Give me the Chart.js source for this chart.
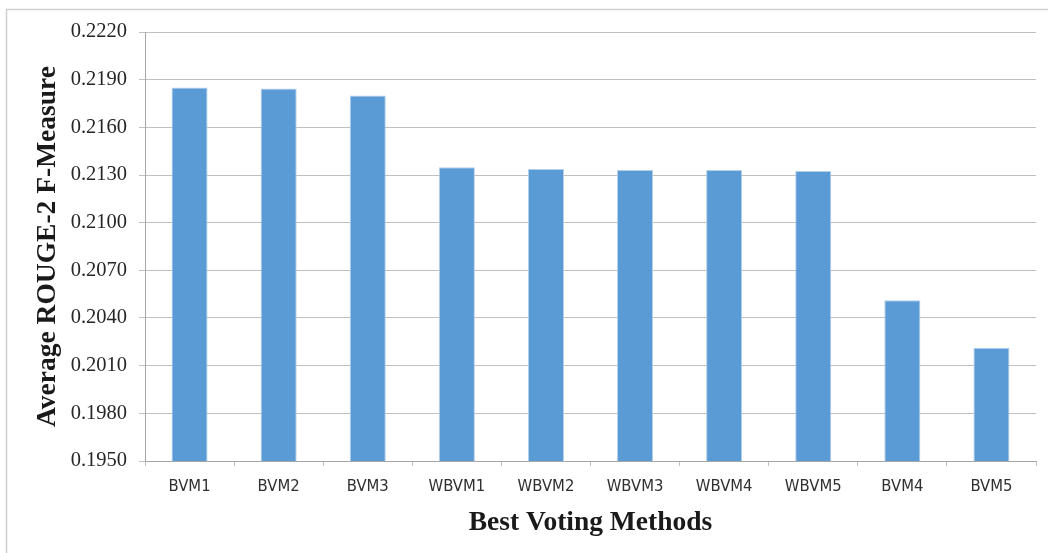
<!DOCTYPE html>
<html>
<head>
<meta charset="utf-8">
<script src="https://cdn.jsdelivr.net/npm/chart.js@4.4.1/dist/chart.umd.min.js"></script>
<style>
  html, body { margin: 0; padding: 0; background: #ffffff; }
  #wrap { width: 1048px; height: 553px; position: relative; }
</style>
</head>
<body>
<div id="wrap"><canvas id="chart" width="1048" height="553"></canvas></div>
<script>
// Voting methods and their average ROUGE-2 F-measure
const methods = ['BVM1', 'BVM2', 'BVM3', 'WBVM1', 'WBVM2', 'WBVM3', 'WBVM4', 'WBVM5', 'BVM4', 'BVM5'];
const rougeScores = [0.2185, 0.21845, 0.2180, 0.21348, 0.21338, 0.21332, 0.21332, 0.21325, 0.20512, 0.20213];

// Value axis range
const yMin = 0.1950;
const yMax = 0.2220;
const yStep = 0.0030;

// Light frame along the top and left edge of the chart box
const framePlugin = {
  id: 'frame',
  beforeDraw(chart) {
    const ctx = chart.ctx;
    ctx.save();
    ctx.fillStyle = '#ffffff';
    ctx.fillRect(0, 0, chart.width, chart.height);
    ctx.strokeStyle = '#cfcfcf';
    ctx.lineWidth = 1.5;
    ctx.beginPath();
    ctx.moveTo(6.5, chart.height);
    ctx.lineTo(6.5, 9.5);
    ctx.lineTo(chart.width, 9.5);
    ctx.stroke();
    ctx.restore();
  }
};

new Chart(document.getElementById('chart'), {
  type: 'bar',
  data: {
    labels: methods,
    datasets: [{
      data: rougeScores,
      backgroundColor: '#5b9bd5',
      borderColor: '#b4d0ec',
      borderWidth: 1,
      barPercentage: 0.405,
      categoryPercentage: 1.0
    }]
  },
  options: {
    responsive: false,
    animation: false,
    devicePixelRatio: 1,
    layout: { padding: { left: 0, right: 12, top: 32, bottom: 0 } },
    plugins: {
      legend: { display: false },
      tooltip: { enabled: false }
    },
    scales: {
      x: {
        afterFit(scale) { scale.height = 92; },
        grid: {
          offset: true,
          drawOnChartArea: false,
          drawTicks: true,
          tickLength: 5,
          color: '#bfbfbf'
        },
        border: { color: '#a6a6a6', width: 1 },
        ticks: {
          padding: 11,
          color: '#303030',
          font: { family: "'Liberation Sans Narrow', 'DejaVu Sans Condensed', Roboto, sans-serif", size: 16.5, weight: 300 }
        },
        title: {
          display: true,
          text: 'Best Voting Methods',
          color: '#1a1a1a',
          padding: { top: 0, bottom: 14 },
          font: { family: "'Liberation Serif', 'DejaVu Serif', serif", size: 27.5, weight: 'bold' }
        }
      },
      y: {
        min: yMin,
        max: yMax,
        afterFit(scale) { scale.width = 145; },
        grid: {
          color: '#bfbfbf',
          lineWidth: 1,
          drawTicks: true,
          tickLength: 6
        },
        border: { color: '#a6a6a6', width: 1 },
        ticks: {
          stepSize: yStep,
          padding: 12,
          color: '#262626',
          font: { family: "'Liberation Serif', 'DejaVu Serif', serif", size: 20.5 },
          callback: (v) => Number(v).toFixed(4)
        },
        title: {
          display: true,
          text: 'Average ROUGE-2 F-Measure',
          color: '#1a1a1a',
          padding: { top: 31, bottom: 0 },
          font: { family: "'Liberation Serif', 'DejaVu Serif', serif", size: 27.5, weight: 'bold' }
        }
      }
    }
  },
  plugins: [framePlugin]
});
</script>
</body>
</html>
